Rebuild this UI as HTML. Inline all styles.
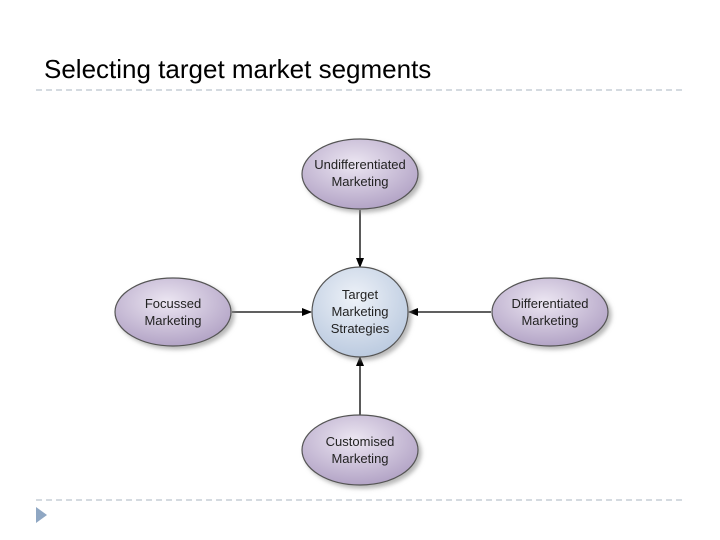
<html><body style="margin:0;width:720px;height:540px;background:#fff;overflow:hidden">
<svg width="720" height="540" xmlns="http://www.w3.org/2000/svg" font-family="Liberation Sans, sans-serif">
<defs>
<radialGradient id="p" cx="45%" cy="35%" r="65%"><stop offset="0" stop-color="#ece6f2"/><stop offset="1" stop-color="#b3a4c6"/></radialGradient>
<radialGradient id="b" cx="45%" cy="35%" r="65%"><stop offset="0" stop-color="#eef2f8"/><stop offset="1" stop-color="#bccbe0"/></radialGradient>
<marker id="a" markerWidth="10" markerHeight="10" refX="9" refY="5" orient="auto" markerUnits="userSpaceOnUse"><path d="M0,1 L10,5 L0,9 Z" fill="#000"/></marker>
<filter id="s"><feDropShadow dx="3" dy="3" stdDeviation="2" flood-color="#888" flood-opacity="0.6"/></filter>
</defs>
<text x="44" y="78" font-size="26" fill="#000">Selecting target market segments</text>
<line x1="36" y1="90" x2="686" y2="90" stroke="#a8b4c2" stroke-dasharray="6,4"/>
<line x1="36" y1="500" x2="686" y2="500" stroke="#a8b4c2" stroke-dasharray="6,4"/>
<path d="M36,507 L47,515 L36,523 Z" fill="#8fa7c3"/>
<g stroke="#000" stroke-width="1.3">
<line x1="360" y1="210" x2="360" y2="267" marker-end="url(#a)"/>
<line x1="360" y1="415" x2="360" y2="357" marker-end="url(#a)"/>
<line x1="232" y1="312" x2="311" y2="312" marker-end="url(#a)"/>
<line x1="491" y1="312" x2="409" y2="312" marker-end="url(#a)"/>
</g>
<g stroke="#555" stroke-width="1.2" filter="url(#s)">
<ellipse cx="360" cy="174" rx="58" ry="35" fill="url(#p)"/>
<ellipse cx="173" cy="312" rx="58" ry="34" fill="url(#p)"/>
<ellipse cx="550" cy="312" rx="58" ry="34" fill="url(#p)"/>
<ellipse cx="360" cy="450" rx="58" ry="35" fill="url(#p)"/>
<ellipse cx="360" cy="312" rx="48" ry="45" fill="url(#b)"/>
</g>
<g font-size="13" fill="#222" text-anchor="middle">
<text x="360" y="169">Undifferentiated</text><text x="360" y="186">Marketing</text>
<text x="173" y="308">Focussed</text><text x="173" y="325">Marketing</text>
<text x="550" y="308">Differentiated</text><text x="550" y="325">Marketing</text>
<text x="360" y="446">Customised</text><text x="360" y="463">Marketing</text>
<text x="360" y="299">Target</text><text x="360" y="316">Marketing</text><text x="360" y="333">Strategies</text>
</g>
</svg>
</body></html>
